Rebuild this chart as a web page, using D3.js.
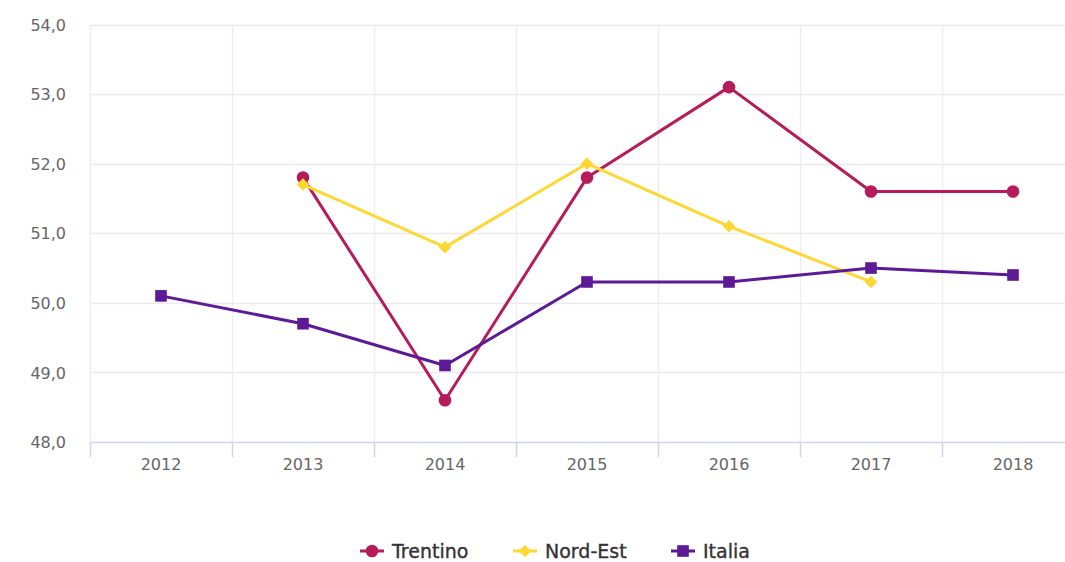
<!DOCTYPE html>
<html>
<head>
<meta charset="utf-8">
<script src="https://cdn.jsdelivr.net/npm/d3@7"></script>
<style>
  body { margin: 0; background: #fff; }
  svg { display: block; }
  svg text { font-family: "DejaVu Sans", "Lucida Grande", sans-serif; }
</style>
</head>
<body>
<svg id="chart" width="1065" height="562"></svg>
<script>
////////// dati

const anni = ['2012', '2013', '2014', '2015', '2016', '2017', '2018'];
const trentino = [null, 51.8, 48.6, 51.8, 53.1, 51.6, 51.6];
const nordEst = [null, 51.7, 50.8, 52.0, 51.1, 50.3, null];
const italia = [50.1, 49.7, 49.1, 50.3, 50.3, 50.5, 50.4];
const yTicks = [48, 49, 50, 51, 52, 53, 54];

// rombo tipo highcharts (quadrato ruotato)
const symbolRombo = {
  draw(context, size) {
    const r = Math.sqrt(size / 2);
    context.moveTo(0, -r);
    context.lineTo(r, 0);
    context.lineTo(0, r);
    context.lineTo(-r, 0);
    context.closePath();
  }
};

const serie = [
  { nome: 'Trentino', valori: trentino, colore: '#b71c5a', simbolo: d3.symbolCircle, size: 125 },
  { nome: 'Nord-Est', valori: nordEst, colore: '#fdd835', simbolo: symbolRombo, size: 80 },
  { nome: 'Italia', valori: italia, colore: '#5c1a96', simbolo: d3.symbolSquare, size: 135 }
];

const svg = d3.select('#chart');

// scale
const x = d3.scaleBand()
  .domain(anni)
  .range([90, 1084]);

const y = d3.scaleLinear()
  .domain([48, 54])
  .range([442, 24.5]);

const fmt = v => d3.format('.1f')(v).replace('.', ',');

// griglia orizzontale
svg.append('g')
  .selectAll('line')
  .data(yTicks.filter(d => d !== 48))
  .join('line')
  .attr('x1', 90)
  .attr('x2', 1084)
  .attr('y1', d => Math.round(y(d)) + 0.5)
  .attr('y2', d => Math.round(y(d)) + 0.5)
  .attr('stroke', '#ebebeb')
  .attr('stroke-width', 1.5);

// griglia verticale
svg.append('g')
  .selectAll('line')
  .data(anni)
  .join('line')
  .attr('x1', d => Math.round(x(d)) + 0.5)
  .attr('x2', d => Math.round(x(d)) + 0.5)
  .attr('y1', y(54))
  .attr('y2', y(48))
  .attr('stroke', '#eceef2')
  .attr('stroke-width', 1.5);

// asse y
const yAxis = svg.append('g')
  .attr('transform', 'translate(66,0)')
  .call(d3.axisLeft(y).tickValues(yTicks).tickFormat(fmt).tickSize(0).tickPadding(0));
yAxis.attr('font-family', null).attr('font-size', null);
yAxis.select('.domain').remove();
yAxis.selectAll('text')
  .attr('dy', '0.35em')
  .attr('fill', '#666')
  .style('font-size', '16px');

// asse x
const xAxis = svg.append('g')
  .attr('transform', 'translate(0,442)')
  .call(d3.axisBottom(x).tickSize(0).tickPadding(17));
xAxis.attr('font-family', null).attr('font-size', null);
xAxis.select('.domain')
  .attr('stroke', '#ccd6eb')
  .attr('stroke-width', 1.5);
xAxis.selectAll('text')
  .attr('fill', '#666')
  .style('font-size', '16px');

// tacche
svg.append('g')
  .selectAll('line')
  .data(anni)
  .join('line')
  .attr('x1', d => Math.round(x(d)) + 0.5)
  .attr('x2', d => Math.round(x(d)) + 0.5)
  .attr('y1', 442)
  .attr('y2', 457)
  .attr('stroke', '#ccd6eb')
  .attr('stroke-width', 1.5);

// linee e simboli
const cx = a => x(a) + x.bandwidth() / 2;

serie.forEach(s => {
  const punti = anni.map((a, i) => ({ anno: a, v: s.valori[i] })).filter(p => p.v !== null);

  const line = d3.line()
    .x(p => cx(p.anno))
    .y(p => y(p.v));

  svg.append('path')
    .datum(punti)
    .attr('d', line)
    .attr('fill', 'none')
    .attr('stroke', s.colore)
    .attr('stroke-width', 3)
    .attr('stroke-linejoin', 'round');

  svg.append('g')
    .selectAll('path')
    .data(punti)
    .join('path')
    .attr('d', d3.symbol().type(s.simbolo).size(s.size))
    .attr('transform', p => 'translate(' + cx(p.anno) + ',' + y(p.v) + ')')
    .attr('fill', s.colore);
});

// legenda
const legendX = [360, 513, 671];
const legenda = svg.append('g')
  .selectAll('g')
  .data(serie)
  .join('g')
  .attr('transform', (d, i) => 'translate(' + legendX[i] + ',551)');

legenda.append('line')
  .attr('x1', 0)
  .attr('x2', 24)
  .attr('stroke', d => d.colore)
  .attr('stroke-width', 3);

legenda.append('path')
  .attr('d', d => d3.symbol().type(d.simbolo).size(d.size)())
  .attr('transform', 'translate(12,0)')
  .attr('fill', d => d.colore);

legenda.append('text')
  .attr('x', 32)
  .attr('dy', '0.35em')
  .attr('fill', '#333')
  .attr('stroke', '#333')
  .attr('stroke-width', 0.35)
  .style('font-size', '19px')
  .text(d => d.nome);
</script>
</body>
</html>
